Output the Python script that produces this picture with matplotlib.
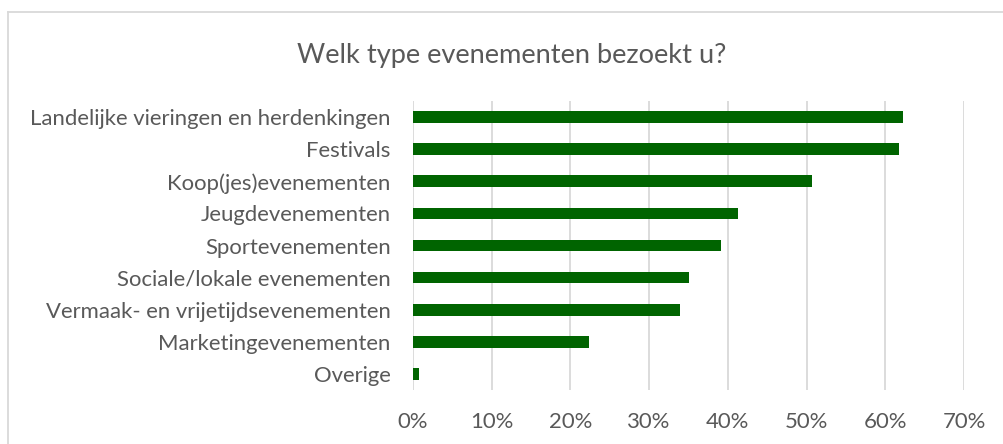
import matplotlib.pyplot as plt
from matplotlib.ticker import PercentFormatter
from matplotlib.lines import Line2D

# data (top to bottom as in the chart)
categories = ["Landelijke vieringen en herdenkingen", "Festivals", "Koop(jes)evenementen",
              "Jeugdevenementen", "Sportevenementen", "Sociale/lokale evenementen",
              "Vermaak- en vrijetijdsevenementen", "Marketingevenementen", "Overige"]
shares = [0.622, 0.618, 0.507, 0.413, 0.391, 0.351, 0.339, 0.224, 0.007]
x_ticks = [0, 0.1, 0.2, 0.3, 0.4, 0.5, 0.6, 0.7]

text_col = "#595959"
grid_col = "#d9d9d9"
bar_col = "#006400"

plt.rcParams['font.family'] = ['Lato', 'DejaVu Sans']

fig = plt.figure(figsize=(10.04, 4.44), dpi=100)
ax = fig.add_axes([413 / 1004, (444 - 390) / 444, (964 - 413) / 1004, (390 - 101) / 444])

pos = list(range(len(categories)))
ax.barh(pos, shares, height=0.36, color=bar_col, zorder=3)
ax.set_yticks(pos)
ax.set_yticklabels(categories, fontsize=15.9, color=text_col)
ax.set_ylim(len(categories) - 0.5, -0.5)

ax.set_xlim(0, 0.7)
ax.set_xticks(x_ticks)
ax.xaxis.set_major_formatter(PercentFormatter(1.0, decimals=0))
ax.tick_params(axis='x', labelsize=15.9, labelcolor=text_col, length=0, pad=16)
ax.tick_params(axis='y', length=0, pad=16)
ax.grid(axis='x', color=grid_col, linewidth=1.3, zorder=0)
for s in ax.spines.values():
    s.set_visible(False)

fig.text(512 / 1004, 1 - 55 / 444, "Welk type evenementen bezoekt u?", ha='center', va='center',
         fontsize=19.6, color=text_col)

# chart frame (left and top edges visible)
fig.add_artist(Line2D([8 / 1004, 8 / 1004], [0, 1 - 12 / 444], color=grid_col, linewidth=1.3))
fig.add_artist(Line2D([8 / 1004, 1], [1 - 12 / 444, 1 - 12 / 444], color=grid_col, linewidth=1.3))

fig.savefig("out.png", dpi=100)
